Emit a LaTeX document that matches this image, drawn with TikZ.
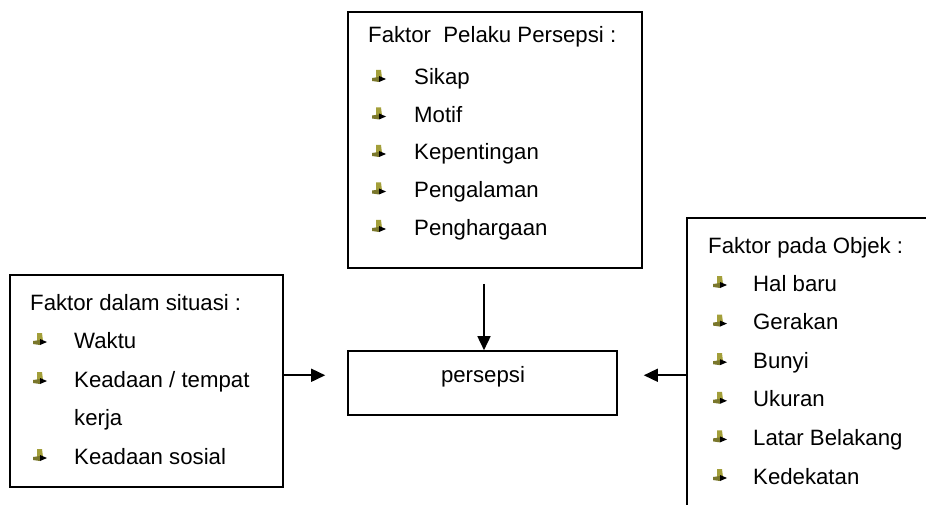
\documentclass[tikz,border=0pt]{standalone}
\usepackage{fontspec}
\setmainfont{Liberation Sans}
\usetikzlibrary{arrows.meta}
\definecolor{bulletolive}{HTML}{A39F3A}

\tikzset{
  kotak/.style={draw, line width=1.6pt, inner sep=0pt},
  teks/.style={anchor=base west, inner sep=0pt},
  flow/.style={line width=1.6pt, -{Triangle[length=14pt,width=13pt]}},
  panah/.pic={
    \fill[bulletolive] (-3,-6) -- (2,-6) -- (3,2) -- (-3,2) -- cycle;
    \fill[bulletolive!75!black] (-7,2) -- (0,1) -- (0,6) -- (-7,5) -- cycle;
    \fill[black] (0,0) -- (7,3) -- (0,6) -- cycle;
  }
}

\begin{document}
\begin{tikzpicture}[x=1pt, y=-1pt, every node/.style={font=\fontsize{22.2}{26.6}\selectfont}]
    \clip (0,0) rectangle (926,505);

    % Faktor pelaku persepsi
    \node[kotak, minimum width=294, minimum height=256] (pelaku) at (495,140) {};
    \node[teks] (pelakujudul) at (368,43) {Faktor~~Pelaku Persepsi :};
    \pic at (379,76) {panah};
    \node[teks] (sikap) at (414,85) {Sikap};
    \pic at (379,113.5) {panah};
    \node[teks] (motif) at (414,122.5) {Motif};
    \pic at (379,151) {panah};
    \node[teks] (kepentingan) at (414,160) {Kepentingan};
    \pic at (379,188.5) {panah};
    \node[teks] (pengalaman) at (414,197.5) {Pengalaman};
    \pic at (379,226) {panah};
    \node[teks] (penghargaan) at (414,235) {Penghargaan};

    % Faktor dalam situasi
    \node[kotak, minimum width=273, minimum height=212] (situasi) at (146.5,381) {};
    \node[teks] (situasijudul) at (30,310) {Faktor dalam situasi :};
    \pic at (40,339) {panah};
    \node[teks] (waktu) at (74,348) {Waktu};
    \pic at (40,378) {panah};
    \node[teks] (tempat) at (74,387) {Keadaan / tempat};
    \node[teks] (kerja) at (74,425) {kerja};
    \pic at (40,455) {panah};
    \node[teks] (sosial) at (74,464) {Keadaan sosial};

    % Faktor pada objek
    \node[kotak, minimum width=273, minimum height=322] (objek) at (823.5,379) {};
    \node[teks] (objekjudul) at (708,253) {Faktor pada Objek :};
    \pic at (720,282) {panah};
    \node[teks] (halbaru) at (753,291) {Hal baru};
    \pic at (720,320.6) {panah};
    \node[teks] (gerakan) at (753,329.6) {Gerakan};
    \pic at (720,359.2) {panah};
    \node[teks] (bunyi) at (753,368.2) {Bunyi};
    \pic at (720,397.8) {panah};
    \node[teks] (ukuran) at (753,406.8) {Ukuran};
    \pic at (720,436.4) {panah};
    \node[teks] (latar) at (753,445.4) {Latar Belakang};
    \pic at (720,475) {panah};
    \node[teks] (kedekatan) at (753,484) {Kedekatan};

    % Persepsi
    \node[kotak, minimum width=269, minimum height=64] (persepsi) at (482.5,383) {};
    \node[anchor=base, inner sep=0pt] (persepsilabel) at (483,382) {persepsi};

    % Panah ke persepsi
    \path (persepsi.north |- pelaku.south) ++(1.5,15) coordinate (turun);
    \draw[flow] (turun) -- (turun |- persepsi.north);
    \coordinate (ujungkiri) at ([xshift=-22pt,yshift=1pt]persepsi.west |- persepsilabel);
    \draw[flow] (situasi.east |- ujungkiri) -- (ujungkiri);
    \coordinate (ujungkanan) at ([xshift=26pt,yshift=1pt]persepsi.east |- persepsilabel);
    \draw[flow] (objek.west |- ujungkanan) -- (ujungkanan);

\end{tikzpicture}
\end{document}
